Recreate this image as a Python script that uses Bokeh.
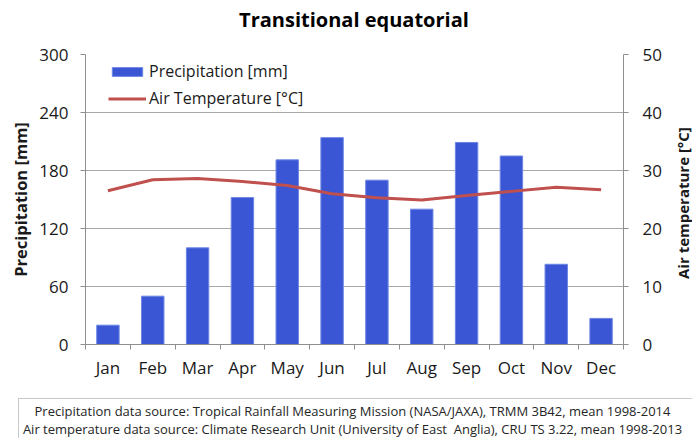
from bokeh.plotting import figure
from bokeh.models import (ColumnDataSource, Range1d, LinearAxis, FixedTicker,
                          Legend, LegendItem, Div)
from bokeh.layouts import column, row
from bokeh.embed import file_html
from bokeh.resources import INLINE

months = ["Jan", "Feb", "Mar", "Apr", "May", "Jun",
          "Jul", "Aug", "Sep", "Oct", "Nov", "Dec"]
precip_mm = [20, 50, 100, 152, 191, 214, 170, 140, 209, 195, 83, 27]
temp_c = [26.5, 28.4, 28.6, 28.1, 27.4, 26.0, 25.3, 24.9, 25.7, 26.4, 27.1, 26.7]
precip_ticks = [0, 60, 120, 180, 240, 300]
temp_ticks = [0, 10, 20, 30, 40, 50]
title_text = "Transitional equatorial"
right_label = "Air temperature [°C]"
footer_lines = [
    "Precipitation data source: Tropical Rainfall Measuring Mission (NASA/JAXA), TRMM 3B42, mean 1998-2014",
    "Air temperature data source: Climate Research Unit (University of East&nbsp; Anglia), CRU TS 3.22, mean 1998-2013",
]

FONT = "Open Sans"
AXIS_COL = "#8f8f8f"
GRID_COL = "#a8a8a8"
TEXT_COL = "#1a1a1a"

xpos = [i + 0.5 for i in range(len(months))]
src = ColumnDataSource(dict(x=xpos, month=months, precip=precip_mm, temp=temp_c))

title_html = (
    '<div style="box-sizing:border-box; width:692px; height:40px; line-height:40px; '
    "text-align:center; font-family:'Open Sans', sans-serif; font-size:20px; "
    'font-weight:bold; color:black; padding-left:16px; white-space:nowrap;">'
    + title_text + "</div>"
)
title_div = Div(text=title_html, width=692, height=40, margin=0)

p = figure(width=674, height=358, output_backend="svg", toolbar_location=None,
           x_range=Range1d(0, len(months)), y_range=Range1d(0, 300),
           min_border_left=85, min_border_right=51, min_border_top=14,
           min_border_bottom=54)
p.outline_line_color = None
p.extra_y_ranges = {"temp": Range1d(0, 50)}

bars = p.vbar(x="x", top="precip", width=0.5, source=src,
              fill_color="#3a56d4", line_color="#6d86e4", line_width=1)
line = p.line(x="x", y="temp", source=src, y_range_name="temp",
              line_color="#c0504d", line_width=3)

# left axis
yax = p.yaxis[0]
yax.ticker = FixedTicker(ticks=precip_ticks)
yax.axis_label = "Precipitation [mm]"
yax.axis_label_text_font = FONT
yax.axis_label_text_font_style = "bold"
yax.axis_label_text_font_size = "16.5px"
yax.axis_label_text_color = TEXT_COL
yax.axis_label_standoff = 4
yax.major_label_text_font = FONT
yax.major_label_text_font_size = "17px"
yax.major_label_text_color = TEXT_COL
yax.major_label_standoff = 12
yax.major_tick_out = 5
yax.major_tick_in = 0
yax.minor_tick_line_color = None
yax.axis_line_color = AXIS_COL
yax.major_tick_line_color = AXIS_COL

# right axis (its title is drawn alongside, reading bottom-to-top)
rax = LinearAxis(y_range_name="temp", ticker=FixedTicker(ticks=temp_ticks))
rax.major_label_text_font = FONT
rax.major_label_text_font_size = "17px"
rax.major_label_text_color = TEXT_COL
rax.major_label_standoff = 14
rax.major_tick_out = 5
rax.major_tick_in = 0
rax.minor_tick_line_color = None
rax.axis_line_color = AXIS_COL
rax.major_tick_line_color = AXIS_COL
p.add_layout(rax, "right")

# bottom axis: labels at centres, ticks at category boundaries
xax = p.xaxis[0]
xax.ticker = FixedTicker(ticks=xpos, minor_ticks=list(range(len(months) + 1)))
xax.major_label_overrides = {x: m for x, m in zip(xpos, months)}
xax.major_label_text_font = FONT
xax.major_label_text_font_size = "17px"
xax.major_label_text_color = TEXT_COL
xax.major_label_standoff = 5
xax.major_tick_line_color = None
xax.minor_tick_line_color = AXIS_COL
xax.minor_tick_out = 5
xax.minor_tick_in = 0
xax.axis_line_color = AXIS_COL

p.xgrid.visible = False
p.ygrid.ticker = FixedTicker(ticks=precip_ticks)
p.ygrid.grid_line_color = GRID_COL

legend = Legend(items=[LegendItem(label="Precipitation [mm]", renderers=[bars]),
                       LegendItem(label="Air Temperature [°C]", renderers=[line])],
                location=(23, 235), orientation="vertical",
                label_text_font=FONT, label_text_font_size="16px",
                label_text_color=TEXT_COL, label_standoff=3,
                glyph_width=38, glyph_height=11, label_height=20, spacing=5,
                padding=5, margin=0, border_line_color=None,
                background_fill_alpha=0)
p.add_layout(legend)

right_html = (
    '<div style="width:18px; height:326px; writing-mode:vertical-rl; '
    'transform:rotate(180deg); text-align:center; line-height:18px; '
    "font-family:'Open Sans', sans-serif; font-size:15px; font-weight:bold; "
    'color:#1a1a1a; white-space:nowrap;">' + right_label + "</div>"
)
right_div = Div(text=right_html, width=18, height=358, margin=0)

footer_html = (
    '<div style="box-sizing:border-box; width:674px; height:40px; overflow:hidden; '
    'border-top:1px solid #c8c8c8; border-left:1px solid #c8c8c8; '
    "font-family:'Open Sans', sans-serif; font-size:13px; line-height:17.5px; "
    'color:#262626; text-align:center; padding:4px 6px 0 0; white-space:nowrap;">'
    + "<br>".join(footer_lines) + "</div>"
)
footer = Div(text=footer_html, width=674, height=40, margin=(0, 0, 0, 18))

layout = column(title_div, row(p, right_div, spacing=0), footer, spacing=0)
open("out.html", "w").write(file_html(layout, INLINE))
